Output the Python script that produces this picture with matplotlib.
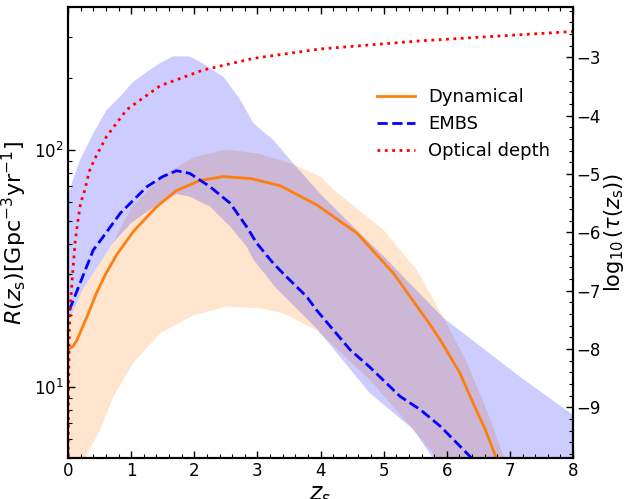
import numpy as np
import matplotlib
matplotlib.use("Agg")
import matplotlib.pyplot as plt
from matplotlib.ticker import AutoMinorLocator, MultipleLocator

# ---------------- values ----------------
# Dynamical median rate R(z_s) [Gpc^-3 yr^-1]
z_dyn = [0.0, 0.08, 0.14, 0.3, 0.45, 0.6, 0.77, 1.03, 1.39, 1.71, 2.08, 2.46, 2.9,
         3.36, 3.94, 4.58, 5.16, 5.53, 5.74, 5.9, 6.21, 6.42, 6.61, 6.76, 6.85]
r_dyn = [14.3, 14.8, 15.7, 19.7, 24.8, 30.0, 36.0, 45.0, 57.0, 67.0, 74.0, 77.0, 75.5,
         70.5, 58.5, 44.4, 30.0, 21.8, 18.2, 15.7, 11.4, 8.5, 6.6, 5.2, 4.5]

# Dynamical band
z_dyn_hi = [0.0, 0.23, 0.5, 0.71, 1.0, 1.5, 2.0, 2.5, 3.0, 3.5, 4.0, 4.2, 5.0,
            5.53, 5.95, 6.3, 6.63, 6.9, 7.0]
r_dyn_hi = [18.5, 25.6, 33.1, 40.3, 57.0, 78.0, 93.0, 100.0, 96.5, 88.0, 77.0, 68.0, 45.8,
            31.0, 19.5, 13.0, 8.0, 5.1, 4.5]
z_dyn_lo = [0.0, 0.27, 0.51, 0.72, 1.035, 1.46, 1.99, 2.52, 3.04, 3.41, 3.94, 4.78,
            5.47, 5.85, 6.0]
r_dyn_lo = [3.0, 5.0, 6.6, 9.1, 12.6, 16.8, 20.0, 21.8, 21.4, 20.4, 17.3, 10.7,
            6.6, 5.0, 4.0]

# EMBS median rate
z_embs = [0.02, 0.19, 0.4, 0.56, 0.83, 1.25, 1.5, 1.72, 1.93, 2.25, 2.57, 2.83, 2.99,
          3.25, 3.41, 3.78, 3.94, 4.47, 4.78, 5.26, 5.58, 5.9, 6.37, 6.5]
r_embs = [21.0, 27.3, 37.7, 43.0, 54.0, 69.8, 77.0, 81.5, 79.4, 69.8, 59.4, 47.3, 40.3,
          33.2, 30.0, 24.0, 21.0, 14.3, 12.1, 9.1, 8.0, 6.8, 5.07, 4.6]

# EMBS band
z_embs_hi = [0.0, 0.19, 0.4, 0.61, 0.82, 1.04, 1.25, 1.46, 1.67, 1.93, 2.09, 2.46, 2.73,
             2.94, 3.25, 3.52, 4.0, 4.6, 5.0, 5.4, 5.95, 7.16, 8.0]
r_embs_hi = [65.0, 90.5, 117.0, 147.0, 167.0, 194.0, 213.0, 232.0, 248.0, 247.0, 235.0, 203.0, 162.0,
             129.0, 110.0, 90.5, 65.0, 45.0, 35.5, 27.5, 19.5, 11.0, 7.6]
z_embs_lo = [0.0, 0.23, 0.5, 0.71, 1.0, 1.39, 1.72, 1.93, 2.25, 2.57, 2.83, 2.94, 3.3,
             3.94, 4.78, 5.47, 5.8, 6.0, 8.0]
r_embs_lo = [18.5, 25.6, 33.1, 40.3, 49.0, 58.0, 65.0, 63.4, 57.5, 47.3, 39.0, 34.3, 26.0,
             17.6, 9.4, 6.6, 4.9, 4.0, 3.0]

# optical depth, log10(tau(z_s))
z_tau = [0.003, 0.008, 0.02, 0.047, 0.074, 0.11, 0.15, 0.2, 0.26, 0.34, 0.42, 0.61,
         0.93, 1.46, 2.14, 2.94, 3.99, 5.58, 8.0]
log_tau = [-9.85, -8.9, -7.68, -7.1, -6.7, -6.2, -5.85, -5.5, -5.3, -4.95, -4.75, -4.36,
           -3.9, -3.49, -3.22, -3.02, -2.86, -2.72, -2.56]

labels = ['Dynamical', 'EMBS', 'Optical depth']

# ---------------- figure ----------------
fig = plt.figure(figsize=(6.24, 4.99), dpi=100)
ax = fig.add_axes([68/624, 41/499, 505/624, 451/499])
ax2 = ax.twinx()

# bands (orange first, blue over it)
ax.fill(np.concatenate([z_dyn_hi, z_dyn_lo[::-1]]),
        np.concatenate([r_dyn_hi, r_dyn_lo[::-1]]),
        color='C1', alpha=0.2, lw=0)
ax.fill(np.concatenate([z_embs_hi, z_embs_lo[::-1]]),
        np.concatenate([r_embs_hi, r_embs_lo[::-1]]),
        color='blue', alpha=0.2, lw=0)

l1, = ax.plot(z_dyn, r_dyn, color='C1', lw=2, label=labels[0])
l2, = ax.plot(z_embs, r_embs, color='blue', lw=2, ls='--', label=labels[1])
l3, = ax2.plot(z_tau, log_tau, color='red', lw=2, ls=':', label=labels[2])

ax.set_yscale('log')
ax.set_xlim(0, 8)
ax.set_ylim(5, 400)
ax2.set_ylim(-9.87, -2.14)

ax.xaxis.set_major_locator(MultipleLocator(1))
ax.xaxis.set_minor_locator(AutoMinorLocator(5))
ax2.yaxis.set_major_locator(MultipleLocator(1))
ax2.yaxis.set_minor_locator(AutoMinorLocator(5))

ax.tick_params(which='both', direction='in', top=True, right=False, labelsize=12, pad=3)
ax.tick_params(which='major', length=5, width=1)
ax.tick_params(which='minor', length=3, width=0.8)
ax2.tick_params(which='both', direction='in', labelsize=12, pad=2.5)
ax2.tick_params(which='major', length=5, width=1)
ax2.tick_params(which='minor', length=3, width=0.8)

for a in (ax, ax2):
    for s in a.spines.values():
        s.set_linewidth(1.5)

ax.set_xlabel(r'$z_\mathrm{s}$', fontsize=17, labelpad=2)
ax.set_ylabel(r'$R(z_\mathrm{s})[\mathrm{Gpc^{-3}yr^{-1}}]$', fontsize=16)
ax2.set_ylabel(r'$\log_{10}(\tau(z_\mathrm{s}))$', fontsize=15, labelpad=1)

ax2.legend([l1, l2, l3], labels, loc='upper left', bbox_to_anchor=(0.598, 0.836),
           borderaxespad=0, frameon=False, fontsize=13, handlelength=2.1,
           handletextpad=0.7)

fig.savefig('out.png', dpi=100)
